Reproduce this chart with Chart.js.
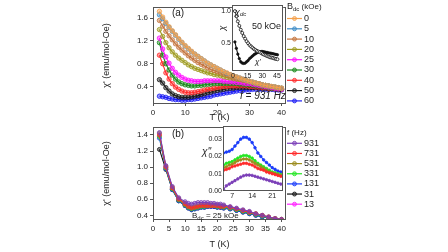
<!DOCTYPE html>
<html>
<head>
<meta charset="utf-8">
<script src="https://cdn.jsdelivr.net/npm/chart.js@4.4.0/dist/chart.umd.min.js"></script>
<style>
body { margin: 0; background: #fff; }
#wrap { position: relative; width: 448px; height: 252px; overflow: hidden; background: #fff; }
canvas { position: absolute; }
</style>
</head>
<body>
<div id="wrap">
  <canvas id="cA" width="260" height="125" style="left:100px;top:0px"></canvas>
  <canvas id="cAi" width="92" height="85" style="left:196px;top:0px"></canvas>
  <canvas id="cB" width="260" height="132" style="left:100px;top:120px"></canvas>
  <canvas id="cBi" width="103" height="85" style="left:185px;top:120px"></canvas>
</div>
<script>
// panel (a): chi' vs T at different dc fields, f = 931 Hz
var tempA = [2,3,4,5,6,7,8,9,10,11,12,13,14,15,16,17,18,19,20,21,22,23,24,25,26,27,28,29,30,31,32,33,34,35,36,37,38,39,40];
var chi0  = [1.72,1.62,1.53,1.45,1.38,1.31,1.24,1.18,1.12,1.07,1.02,0.97,0.93,0.89,0.85,0.81,0.78,0.75,0.72,0.69,0.66,0.64,0.61,0.59,0.57,0.55,0.53,0.51,0.49,0.48,0.46,0.45,0.43,0.42,0.41,0.40,0.39,0.38,0.37];
var chi5  = [1.66,1.59,1.51,1.44,1.37,1.30,1.23,1.17,1.11,1.06,1.01,0.97,0.93,0.89,0.85,0.81,0.78,0.75,0.72,0.69,0.66,0.63,0.61,0.59,0.57,0.55,0.53,0.51,0.49,0.48,0.46,0.45,0.43,0.42,0.41,0.40,0.39,0.38,0.37];
var chi10 = [1.56,1.46,1.37,1.29,1.22,1.15,1.09,1.04,0.99,0.94,0.90,0.86,0.82,0.79,0.76,0.73,0.70,0.68,0.66,0.64,0.62,0.60,0.58,0.56,0.55,0.53,0.52,0.50,0.49,0.47,0.46,0.45,0.43,0.42,0.41,0.40,0.39,0.38,0.37];
var chi20 = [1.40,1.28,1.17,1.08,1.01,0.95,0.90,0.86,0.82,0.78,0.75,0.72,0.70,0.68,0.66,0.64,0.63,0.61,0.60,0.59,0.57,0.56,0.55,0.54,0.53,0.52,0.51,0.50,0.49,0.47,0.46,0.45,0.43,0.42,0.41,0.40,0.39,0.38,0.37];
var chi25 = [1.25,1.06,0.92,0.81,0.72,0.65,0.60,0.56,0.53,0.51,0.50,0.49,0.49,0.49,0.50,0.50,0.50,0.50,0.50,0.50,0.49,0.49,0.48,0.48,0.47,0.47,0.46,0.45,0.45,0.44,0.43,0.42,0.41,0.40,0.39,0.38,0.37,0.36,0.35];
var chi30 = [1.17,0.95,0.80,0.69,0.60,0.53,0.48,0.45,0.43,0.42,0.41,0.41,0.42,0.42,0.43,0.44,0.44,0.45,0.45,0.45,0.45,0.45,0.45,0.45,0.45,0.44,0.44,0.43,0.43,0.42,0.41,0.41,0.40,0.39,0.38,0.37,0.37,0.36,0.35];
var chi40 = [0.95,0.80,0.64,0.53,0.45,0.39,0.35,0.32,0.30,0.29,0.29,0.30,0.31,0.32,0.34,0.35,0.36,0.37,0.38,0.39,0.40,0.40,0.41,0.41,0.41,0.41,0.41,0.41,0.40,0.40,0.39,0.39,0.38,0.38,0.37,0.37,0.36,0.36,0.35];
var chi50 = [0.52,0.46,0.38,0.32,0.27,0.24,0.22,0.21,0.21,0.21,0.22,0.23,0.24,0.26,0.27,0.29,0.30,0.32,0.33,0.34,0.35,0.36,0.37,0.37,0.38,0.38,0.38,0.38,0.38,0.38,0.38,0.37,0.37,0.37,0.36,0.36,0.36,0.35,0.35];
var chi60 = [0.23,0.22,0.21,0.19,0.18,0.17,0.17,0.16,0.16,0.17,0.17,0.18,0.19,0.20,0.21,0.22,0.23,0.25,0.26,0.27,0.28,0.29,0.30,0.31,0.32,0.33,0.33,0.34,0.34,0.35,0.35,0.35,0.35,0.35,0.35,0.35,0.34,0.34,0.34];
var fieldLabels = ['0','5','10','20','25','30','40','50','60'];
var fieldColors = ['#F5A04A','#3E8CC6','#C4733C','#9E9B1F','#FF10FF','#19891B','#FF2B2B','#1A1A1A','#1C1CF5'];

// inset (a): chi_dc and chi' at 50 kOe
var tempInA = [2,3.5,5,6.5,8,9.5,11,12.5,14,15.5,17,18.5,20,21.5,23,24.5,26,27.5,29,30.5,32,33.5,35,36.5,38,39.5,41,42.5,44,45.5];
var chiDc50 = [1.00,0.92,0.84,0.77,0.71,0.66,0.61,0.57,0.53,0.50,0.47,0.45,0.43,0.41,0.395,0.38,0.37,0.36,0.345,0.33,0.32,0.31,0.30,0.29,0.28,0.275,0.27,0.26,0.255,0.25];
var chiAc50 = [0.52,0.42,0.33,0.26,0.21,0.19,0.185,0.19,0.21,0.23,0.26,0.28,0.30,0.32,0.335,0.35,0.36,0.365,0.37,0.37,0.365,0.36,0.355,0.35,0.345,0.34,0.335,0.33,0.325,0.32];

// panel (b): chi' vs T at different frequencies, Bdc = 25 kOe
var tempB = [2,4,6,8,10,11,12,13,14,15,16,17,18,19,20,21,22,24,26,28,30,32,34,36,38,40];
var f931 = [1.43,1.02,0.76,0.62,0.57,0.55,0.54,0.55,0.56,0.56,0.56,0.56,0.55,0.55,0.54,0.54,0.53,0.51,0.49,0.47,0.45,0.42,0.40,0.38,0.36,0.35];
var f731 = [1.40,1.00,0.74,0.60,0.54,0.51,0.49,0.50,0.51,0.52,0.52,0.52,0.52,0.52,0.52,0.51,0.51,0.50,0.48,0.46,0.44,0.42,0.40,0.38,0.36,0.35];
var f531 = [1.42,1.01,0.75,0.61,0.55,0.52,0.50,0.51,0.52,0.53,0.53,0.53,0.53,0.53,0.53,0.52,0.52,0.50,0.48,0.46,0.44,0.42,0.40,0.38,0.36,0.35];
var f331 = [1.38,0.99,0.73,0.59,0.53,0.50,0.48,0.49,0.50,0.51,0.51,0.52,0.52,0.52,0.51,0.51,0.50,0.49,0.47,0.45,0.43,0.41,0.39,0.37,0.36,0.35];
var f131 = [1.36,0.98,0.72,0.58,0.52,0.49,0.47,0.48,0.49,0.50,0.50,0.51,0.51,0.51,0.50,0.50,0.49,0.48,0.46,0.44,0.42,0.40,0.38,0.37,0.35,0.34];
var f31  = [1.22,0.97,0.72,0.58,0.52,0.49,0.47,0.48,0.49,0.50,0.50,0.51,0.51,0.51,0.50,0.50,0.49,0.48,0.46,0.44,0.42,0.40,0.38,0.37,0.35,0.34];
var f13  = [1.39,1.00,0.73,0.59,0.53,0.50,0.48,0.49,0.50,0.51,0.51,0.52,0.52,0.51,0.51,0.50,0.50,0.49,0.47,0.45,0.43,0.41,0.39,0.37,0.36,0.34];
var freqLabels = ['931','731','531','331','131','31','13'];
var freqColors = ['#7B3FB8','#FF2B2B','#9C8C1E','#22E622','#1A3CFA','#111111','#FF22FF'];

// inset (b): chi'' vs T
var tempInB = [4,5,6,7,8,9,10,11,12,13,14,15,16,17,18,19,20,21,22,23,24];
var c931 = [0.001,0.003,0.004,0.005,0.006,0.007,0.008,0.0088,0.0092,0.0092,0.009,0.0085,0.008,0.0075,0.007,0.0065,0.006,0.0055,0.005,0.0045,0.004];
var c731 = [0.012,0.0125,0.013,0.014,0.0145,0.015,0.0155,0.016,0.016,0.0155,0.015,0.014,0.013,0.0125,0.012,0.011,0.0105,0.010,0.0095,0.009,0.0085];
var c531 = [0.0135,0.014,0.015,0.0155,0.0165,0.0175,0.018,0.0185,0.0185,0.018,0.017,0.016,0.015,0.014,0.013,0.012,0.011,0.0105,0.010,0.0095,0.009];
var c331 = [0.015,0.016,0.0165,0.017,0.018,0.019,0.020,0.0205,0.0205,0.020,0.019,0.0175,0.016,0.015,0.014,0.013,0.012,0.011,0.0105,0.010,0.0095];
var c131 = [0.022,0.0225,0.023,0.024,0.026,0.028,0.030,0.031,0.031,0.030,0.028,0.025,0.022,0.020,0.018,0.0165,0.015,0.0135,0.0125,0.0115,0.011];

// tick labels
var ticksT = [0,10,20,30,40];
var ticksA = [0.4,0.8,1.2,1.6];
var ticksB = [0.4,0.6,0.8,1.0,1.2,1.4];
var ticksInAx = [0,15,30,45];
var ticksInAy = [0.5,1.0];
var ticksInBx = [7,14,21];
var ticksInBy = [0.00,0.01,0.02,0.03];

var FONT = "'Liberation Sans', Arial, sans-serif";
var AXC = '#555';

function fade(hex, a) {
  var n = parseInt(hex.slice(1), 16);
  return 'rgba(' + (n >> 16) + ',' + ((n >> 8) & 255) + ',' + (n & 255) + ',' + a + ')';
}

function series(label, xs, ys, color, r, fillA) {
  return {
    label: label,
    data: xs.map(function (x, i) { return { x: x, y: ys[i] }; }),
    borderColor: color,
    backgroundColor: color,
    pointBackgroundColor: fade(color, fillA),
    pointBorderColor: color,
    pointBorderWidth: 0.8,
    pointRadius: r,
    borderWidth: 1.1,
    tension: 0
  };
}

// text with subscripts: parts = [{t, s, dy, it}]
function rich(ctx, x, y, parts, align, rot) {
  ctx.save();
  ctx.translate(x, y);
  if (rot) ctx.rotate(rot);
  var w = 0;
  parts.forEach(function (p) {
    ctx.font = (p.it ? 'italic ' : '') + p.s + 'px ' + FONT;
    w += ctx.measureText(p.t).width;
  });
  var cx = align === 'center' ? -w / 2 : 0;
  ctx.textBaseline = 'middle';
  ctx.textAlign = 'left';
  ctx.fillStyle = '#222';
  parts.forEach(function (p) {
    ctx.font = (p.it ? 'italic ' : '') + p.s + 'px ' + FONT;
    ctx.fillText(p.t, cx, p.dy || 0);
    cx += ctx.measureText(p.t).width;
  });
  ctx.restore();
}

var notes = {
  id: 'notes',
  beforeDatasetsDraw: function (chart, args, opts) {
    if (opts.white) {
      var a = chart.chartArea;
      chart.ctx.fillStyle = '#fff';
      chart.ctx.fillRect(a.left, a.top, a.right - a.left, a.bottom - a.top);
    }
  },
  afterDraw: function (chart, args, opts) {
    var ctx = chart.ctx, a = chart.chartArea;
    ctx.save();
    ctx.strokeStyle = AXC;
    ctx.lineWidth = 1;
    ctx.strokeRect(Math.round(a.left) + 0.5, Math.round(a.top) + 0.5, Math.round(a.right - a.left) - 1, Math.round(a.bottom - a.top) - 1);
    ctx.restore();
    (opts.items || []).forEach(function (it) { rich(ctx, it.x, it.y, it.parts, it.align, it.rot); });
    var lg = opts.legend;
    if (lg) {
      rich(ctx, lg.x, lg.y, lg.title, 'left');
      chart.data.datasets.forEach(function (ds, i) {
        var y = lg.y0 + i * lg.step;
        ctx.save();
        ctx.strokeStyle = ds.borderColor;
        ctx.lineWidth = 1.2;
        ctx.beginPath();
        ctx.moveTo(lg.x, y);
        ctx.lineTo(lg.x + 15, y);
        ctx.stroke();
        ctx.beginPath();
        ctx.arc(lg.x + 7.5, y, 2, 0, Math.PI * 2);
        ctx.fillStyle = ds.pointBackgroundColor;
        ctx.fill();
        ctx.lineWidth = 0.8;
        ctx.stroke();
        ctx.restore();
        rich(ctx, lg.x + 17, y, [{ t: ds.label, s: 9 }], 'left');
      });
    }
  }
};

function axis(min, max, ticks, dec, size, fit, title, tickLen) {
  return {
    type: 'linear',
    min: min,
    max: max,
    afterBuildTicks: function (ax) { ax.ticks = ticks.map(function (v) { return { value: v }; }); },
    afterFit: function (s) { if (s.isHorizontal()) s.height = fit; else s.width = fit; },
    border: { display: false },
    grid: { drawOnChartArea: false, drawTicks: tickLen > 0, tickLength: tickLen, color: AXC },
    ticks: {
      autoSkip: false,
      maxRotation: 0,
      padding: tickLen > 0 ? 2 : 1,
      color: '#222',
      font: { family: FONT, size: size },
      callback: function (v) { return dec >= 0 ? Number(v).toFixed(dec) : v; }
    },
    title: title ? { display: true, text: title, color: '#222', font: { family: FONT, size: 9 }, padding: { top: 1, bottom: 2 } } : { display: false }
  };
}

function base(pad, xs, ys, pluginOpts) {
  return {
    responsive: false,
    animation: false,
    events: [],
    layout: { padding: pad },
    scales: { x: xs, y: ys },
    plugins: { legend: { display: false }, tooltip: { enabled: false }, notes: pluginOpts }
  };
}

var dsA = [chi0, chi5, chi10, chi20, chi25, chi30, chi40, chi50, chi60].map(function (ys, i) {
  return series(fieldLabels[i], tempA, ys, fieldColors[i], 2.2, 0.45);
});
new Chart(document.getElementById('cA'), {
  type: 'line',
  data: { datasets: dsA },
  options: base({ top: 4, right: 74, left: 0, bottom: 0 },
    axis(0, 41.4, ticksT, -1, 8, 21, 'T (K)', 2),
    axis(0.093, 1.80, ticksA, 1, 8, 53, "\u03c7' (emu/mol-Oe)", 3),
    {
      items: [
        { x: 78, y: 13, parts: [{ t: '(a)', s: 10 }], align: 'center' },
        { x: 140, y: 96, parts: [{ t: 'f = 931 Hz', s: 10, it: true }] }
      ],
      legend: { x: 187, y: 7, title: [{ t: 'B', s: 9 }, { t: 'dc', s: 6, dy: 2 }, { t: ' (kOe)', s: 8 }], y0: 18.5, step: 10.3 }
    }),
  plugins: [notes]
});

new Chart(document.getElementById('cAi'), {
  type: 'line',
  data: {
    datasets: [
      Object.assign(series('dc', tempInA, chiDc50, '#111111', 1.5, 0), { pointBackgroundColor: '#fff', borderWidth: 0.8 }),
      series('ac', tempInA, chiAc50, '#111111', 1.2, 1)
    ]
  },
  options: base({ top: 4, right: 2, left: 0, bottom: 0 },
    axis(-0.97, 51.4, ticksInAx, -1, 7, 14, null, 0),
    axis(0.067, 1.092, ticksInAy, 1, 7, 36, null, 0),
    {
      white: true,
      items: [
        { x: 39, y: 12, parts: [{ t: '\u03c7', s: 9, it: true }, { t: 'dc', s: 6, dy: 2, it: true }] },
        { x: 56, y: 27, parts: [{ t: '50 kOe', s: 9 }] },
        { x: 59, y: 62, parts: [{ t: "\u03c7'", s: 8, it: true }] },
        { x: 26, y: 28, parts: [{ t: '\u03c7', s: 9, it: true }], align: 'center', rot: -Math.PI / 2 }
      ]
    }),
  plugins: [notes]
});

var dsB = [f931, f731, f531, f331, f131, f31, f13].map(function (ys, i) {
  return series(freqLabels[i], tempB, ys, freqColors[i], 2.0, 0.45);
});
new Chart(document.getElementById('cB'), {
  type: 'line',
  data: { datasets: dsB },
  options: base({ top: 6, right: 74, left: 0, bottom: 0 },
    axis(0, 41.4, [0,5,10,15,20,25,30,35,40], -1, 8, 32, 'T (K)', 2),
    axis(0.342, 1.502, ticksB, 1, 8, 53, "\u03c7' (emu/mol-Oe)", 3),
    {
      items: [
        { x: 78, y: 14, parts: [{ t: '(b)', s: 10 }], align: 'center' },
        { x: 92, y: 96, parts: [{ t: 'B', s: 8 }, { t: 'dc', s: 6, dy: 2 }, { t: ' = 25 kOe', s: 8 }] }
      ],
      legend: { x: 187, y: 13, title: [{ t: 'f (Hz)', s: 8 }], y0: 23.3, step: 10.15 }
    }),
  plugins: [notes]
});

var dsBi = [c931, c731, c531, c331, c131].map(function (ys, i) {
  return series(freqLabels[i], tempInB, ys, freqColors[i], 1.3, 1);
});
new Chart(document.getElementById('cBi'), {
  type: 'line',
  data: { datasets: dsBi },
  options: base({ top: 6, right: 2, left: 0, bottom: 0 },
    axis(3.83, 24.83, ticksInBx, -1, 7, 14, null, 0),
    axis(0, 0.0376, ticksInBy, 2, 7, 38, null, 0),
    {
      white: true,
      items: [
        { x: 17, y: 32, parts: [{ t: "\u03c7''", s: 10, it: true }] }
      ]
    }),
  plugins: [notes]
});
</script>
</body>
</html>
